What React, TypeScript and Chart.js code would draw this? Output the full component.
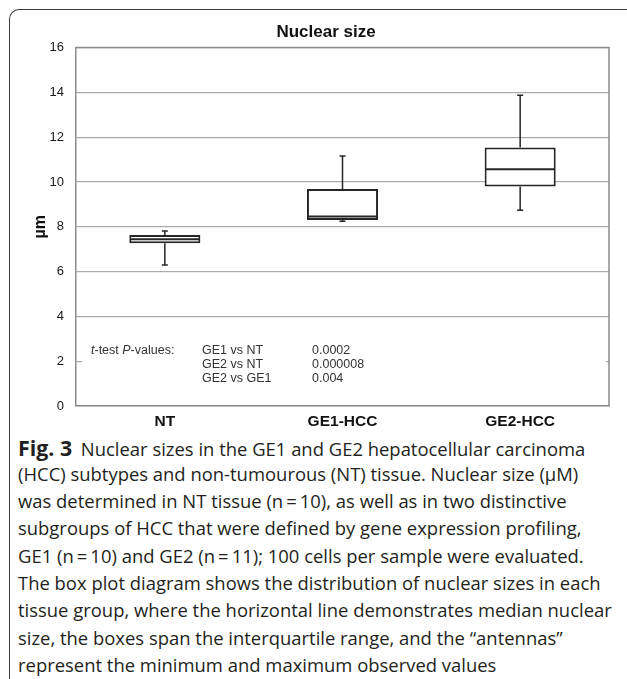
import React, { useEffect, useRef } from "react";
import { Chart, registerables } from "chart.js";

Chart.register(...registerables);

// ---- data ----
const categories = ["NT", "GE1-HCC", "GE2-HCC"];
const minimums = [6.29, 8.25, 8.74];
const lowerQuartiles = [7.26, 8.3, 9.8];
const medians = [7.44, 8.46, 10.57];
const upperQuartiles = [7.63, 9.68, 11.54];
const maximums = [7.81, 11.16, 13.87];

const yMin = 0;
const yMax = 16;
const yStep = 2;

const chartTitle = "Nuclear size";
const yAxisTitle = "µm";
const comparisons = ["GE1 vs NT", "GE2 vs NT", "GE2 vs GE1"];
const pValues = ["0.0002", "0.000008", "0.004"];

const captionLabel = "Fig. 3";
const captionLines = [
  "Nuclear sizes in the GE1 and GE2 hepatocellular carcinoma",
  "(HCC) subtypes and non-tumourous (NT) tissue. Nuclear size (µM)",
  "was determined in NT tissue (n\u2009=\u200910), as well as in two distinctive",
  "subgroups of HCC that were defined by gene expression profiling,",
  "GE1 (n\u2009=\u200910) and GE2 (n\u2009=\u200911); 100 cells per sample were evaluated.",
  "The box plot diagram shows the distribution of nuclear sizes in each",
  "tissue group, where the horizontal line demonstrates median nuclear",
  "size, the boxes span the interquartile range, and the \u201Cantennas\u201D",
  "represent the minimum and maximum observed values",
];

const FONT = "'Liberation Sans', Arial, sans-serif";

const outlinePlugin = {
  id: "plotOutline",
  beforeDatasetsDraw(chart: any) {
    const { ctx, chartArea } = chart;
    ctx.save();
    ctx.strokeStyle = "#8c8c8c";
    ctx.lineWidth = 1.5;
    ctx.beginPath();
    ctx.moveTo(chartArea.left, chartArea.top);
    ctx.lineTo(chartArea.right, chartArea.top);
    ctx.lineTo(chartArea.right, chartArea.bottom);
    ctx.stroke();
    ctx.restore();
  },
};

const pValueBoxPlugin = {
  id: "pValueBox",
  beforeDatasetsDraw(chart: any) {
    const { ctx, chartArea } = chart;
    const y = chart.scales.y;
    const y2 = y.getPixelForValue(2);
    ctx.save();
    ctx.fillStyle = "#ffffff";
    ctx.fillRect(chartArea.left + 6, y2 - 24, chartArea.right - chartArea.left - 9, 48);
    ctx.fillStyle = "#333333";
    ctx.textBaseline = "middle";
    const x0 = chartArea.left + 15;
    const rowY = (k: number) => y2 - 11 + k * 14;
    const parts: [string, boolean][] = [
      ["t", true],
      ["-test ", false],
      ["P", true],
      ["-values:", false],
    ];
    let cx = x0;
    for (const [txt, ital] of parts) {
      ctx.font = `${ital ? "italic " : ""}12.5px ${FONT}`;
      ctx.fillText(txt, cx, rowY(0));
      cx += ctx.measureText(txt).width;
    }
    ctx.font = `12.5px ${FONT}`;
    comparisons.forEach((c, k) => {
      ctx.fillText(c, chartArea.left + 126, rowY(k));
      ctx.fillText(pValues[k], chartArea.left + 236, rowY(k));
    });
    ctx.restore();
  },
};

const boxPlotPlugin = {
  id: "boxWhiskers",
  afterDatasetsDraw(chart: any) {
    const { ctx } = chart;
    const y = chart.scales.y;
    const meta = chart.getDatasetMeta(0);
    ctx.save();
    ctx.strokeStyle = "#262626";
    meta.data.forEach((bar: any, i: number) => {
      const { x, width } = bar.getProps(["x", "width"], true);
      const half = width / 2;
      const yMed = y.getPixelForValue(medians[i]);
      ctx.lineWidth = 2;
      ctx.beginPath();
      ctx.moveTo(x - half + 1, yMed);
      ctx.lineTo(x + half - 1, yMed);
      ctx.stroke();
      const yQ3 = y.getPixelForValue(upperQuartiles[i]);
      const yQ1 = y.getPixelForValue(lowerQuartiles[i]);
      const yHi = y.getPixelForValue(maximums[i]);
      const yLo = y.getPixelForValue(minimums[i]);
      ctx.lineWidth = 1.5;
      ctx.beginPath();
      ctx.moveTo(x, yQ3);
      ctx.lineTo(x, yHi);
      ctx.moveTo(x - 3, yHi);
      ctx.lineTo(x + 3, yHi);
      ctx.moveTo(x, yQ1);
      ctx.lineTo(x, yLo);
      ctx.moveTo(x - 3, yLo);
      ctx.lineTo(x + 3, yLo);
      ctx.stroke();
    });
    ctx.restore();
  },
};

function BoxChart() {
  const ref = useRef<HTMLCanvasElement | null>(null);
  useEffect(() => {
    if (!ref.current) return;
    const chart = new Chart(ref.current, {
      type: "bar",
      data: {
        labels: categories,
        datasets: [
          {
            data: categories.map((_, i) => [lowerQuartiles[i], upperQuartiles[i]]),
            backgroundColor: "#ffffff",
            borderColor: "#262626",
            borderWidth: 2,
            borderSkipped: false,
            barPercentage: 0.4,
            categoryPercentage: 1,
          },
        ],
      } as any,
      options: {
        responsive: false,
        animation: false,
        devicePixelRatio: 1,
        layout: { padding: { left: 33, right: 18, top: 0, bottom: 1.4 } },
        plugins: {
          legend: { display: false },
          tooltip: { enabled: false },
          title: {
            display: true,
            text: chartTitle,
            color: "#111111",
            font: { family: FONT, size: 17, weight: "bold" },
            padding: { top: 10.1, bottom: 5.0 },
          },
        },
        scales: {
          x: {
            grid: { display: false, drawTicks: false, tickLength: 0 },
            border: { display: true, color: "#8c8c8c", width: 1.5 },
            ticks: {
              padding: 6,
              color: "#111111",
              font: { family: FONT, size: 15.5, weight: "bold" },
            },
            afterFit(scale: any) {
              scale.height = 24.6;
            },
          },
          y: {
            min: yMin,
            max: yMax,
            ticks: {
              stepSize: yStep,
              padding: 12,
              color: "#1a1a1a",
              font: { family: FONT, size: 13 },
            },
            grid: { color: "#aaaaaa", lineWidth: 1.2, drawTicks: false, tickLength: 0 },
            border: { display: true, color: "#8c8c8c", width: 1.5 },
            title: {
              display: true,
              text: yAxisTitle,
              color: "#111111",
              font: { family: FONT, size: 16, weight: "bold" },
              padding: { top: -11.6, bottom: 0 },
            },
            afterFit(scale: any) {
              scale.width = 33;
            },
          },
        },
      } as any,
      plugins: [pValueBoxPlugin, outlinePlugin, boxPlotPlugin],
    });
    return () => chart.destroy();
  }, []);
  return (
    <canvas
      ref={ref}
      width={617}
      height={420}
      style={{ position: "absolute", left: 10, top: 12, width: 617, height: 420, display: "block" }}
    />
  );
}

export default function App() {
  return (
    <div
      style={{
        position: "fixed",
        left: 0,
        top: 0,
        width: 627,
        height: 679,
        overflow: "hidden",
        background: "#ffffff",
      }}
    >
      <div
        style={{
          position: "absolute",
          left: 9,
          top: 9,
          width: 700,
          height: 760,
          borderTop: "1.5px solid #3a3a3a",
          borderLeft: "1.5px solid #3a3a3a",
          borderTopLeftRadius: 10,
          boxSizing: "border-box",
        }}
      />
      <BoxChart />
      {captionLines.map((line, i) => (
        <div
          key={i}
          style={{
            position: "absolute",
            left: 18,
            top: 433.5 + i * 27.3,
            height: 27.3,
            lineHeight: "27.3px",
            whiteSpace: "nowrap",
            transform: "scaleX(0.97)",
            transformOrigin: "0 50%",
            fontFamily: "'Open Sans', 'Noto Sans', sans-serif",
            fontSize: 19,
            color: "#231f20",
          }}
        >
          {i === 0 ? (
            <span style={{ fontWeight: 700, fontSize: 22, marginRight: 9 }}>{captionLabel}</span>
          ) : null}
          {line}
        </div>
      ))}
    </div>
  );
}
